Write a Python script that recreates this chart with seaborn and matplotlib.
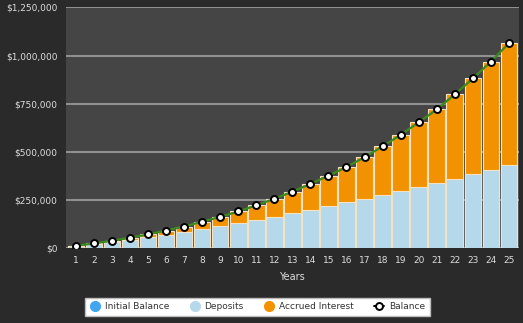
import matplotlib
matplotlib.use("Agg")
import matplotlib.pyplot as plt
from matplotlib.lines import Line2D
from matplotlib.ticker import FuncFormatter
import seaborn as sns
import pandas as pd

years = [str(i) for i in range(1, 26)]
initial_balance = [0] * 25
deposits = [10000, 20000, 32000, 44000, 56000, 70000, 85000, 100000, 116000, 131000,
            146000, 162000, 180000, 199000, 218000, 238000, 255000, 275000, 296000, 316000,
            338000, 361000, 384000, 408000, 432000]
balance = [12000, 24000, 38000, 54000, 71000, 91000, 112000, 137000, 162000, 190000,
           222000, 256000, 293000, 333000, 376000, 421000, 472000, 528000, 588000, 653000,
           720000, 798000, 881000, 968000, 1064000]
interest = [b - d - i for b, d, i in zip(balance, deposits, initial_balance)]
y_ticks = [0, 250000, 500000, 750000, 1000000, 1250000]

df = pd.DataFrame({"Year": years, "Initial": initial_balance, "Deposits": deposits,
                   "Interest": interest, "Balance": balance})
df["Stack"] = df["Initial"] + df["Deposits"] + df["Interest"]
df["Lower"] = df["Initial"] + df["Deposits"]

sns.set_style("dark")
plt.rcParams['font.family'] = ['DejaVu Sans']

fig = plt.figure(figsize=(5.23, 3.23), dpi=100, facecolor="#2a2a2a")
ax = fig.add_axes([0.126, 0.232, 0.866, 0.745])
ax.set_facecolor("#454545")

c_blue = "#b5d8ea"
c_orange = "#f39200"
c_edge = "#f3e3c4"

sns.barplot(data=df, x="Year", y="Stack", color=c_orange, width=0.92, saturation=1,
            edgecolor=c_edge, linewidth=0.8, ax=ax, zorder=2)
sns.barplot(data=df, x="Year", y="Lower", color=c_blue, width=0.92, saturation=1,
            edgecolor=c_edge, linewidth=0.8, ax=ax, zorder=3)
sns.pointplot(data=df, x="Year", y="Balance", color="#3c8a1e", errorbar=None,
              markers="o", markersize=5, markerfacecolor="white", markeredgecolor="black",
              markeredgewidth=1.4, linewidth=1.6, ax=ax, zorder=5)

ax.set_ylim(0, 1250000)
ax.set_xlim(-0.55, 24.55)
ax.set_yticks(y_ticks)
ax.yaxis.set_major_formatter(FuncFormatter(lambda v, p: "${:,.0f}".format(v)))
ax.grid(axis="y", color="#a0a0a0", linewidth=1.2, zorder=0)
ax.grid(axis="x", visible=False)
ax.set_axisbelow(True)
for s in ax.spines.values():
    s.set_visible(False)
ax.tick_params(axis="both", colors="#dddddd", labelsize=6.5, length=0, pad=6)
ax.set_xlabel("Years", color="#dddddd", fontsize=7, labelpad=5)
ax.set_ylabel("")

handles = [
    Line2D([], [], marker="o", linestyle="none", markersize=7, markerfacecolor="#42a5f0",
           markeredgecolor="#42a5f0"),
    Line2D([], [], marker="o", linestyle="none", markersize=7, markerfacecolor="#b5d8ea",
           markeredgecolor="#b5d8ea"),
    Line2D([], [], marker="o", linestyle="none", markersize=7, markerfacecolor="#f39200",
           markeredgecolor="#f39200"),
    Line2D([], [], marker="o", color="black", linewidth=1.4, markersize=5,
           markerfacecolor="white", markeredgecolor="black", markeredgewidth=1.4),
]
labels = ["Initial Balance", "Deposits", "Accrued Interest", "Balance"]
leg = fig.legend(handles, labels, loc="center", bbox_to_anchor=(0.492, 0.05), ncol=4,
                 frameon=True, framealpha=1, fontsize=6.5, handlelength=1.2,
                 handletextpad=0.5, columnspacing=2.2, borderpad=0.5, fancybox=False)
leg.get_frame().set_facecolor("white")
leg.get_frame().set_edgecolor("#bbbbbb")
for t in leg.get_texts():
    t.set_color("#333333")

fig.savefig("out.png", dpi=100, facecolor=fig.get_facecolor())
